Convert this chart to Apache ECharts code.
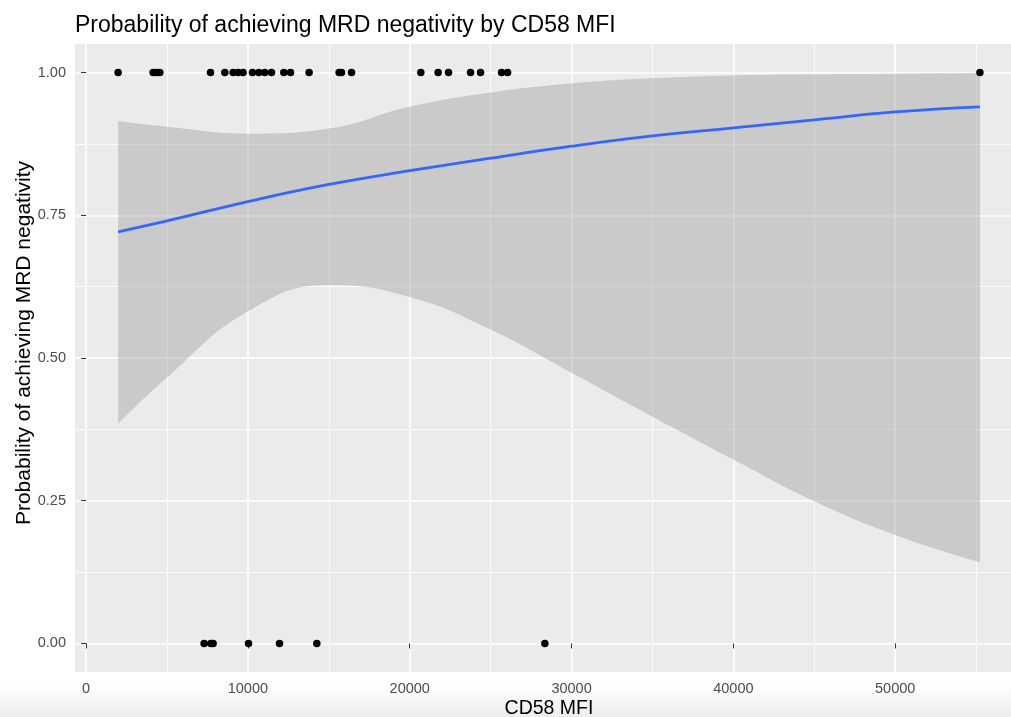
<!DOCTYPE html>
<html><head><meta charset="utf-8">
<script src="https://cdn.jsdelivr.net/npm/echarts@6/dist/echarts.min.js"></script>
<style>html,body{margin:0;padding:0;background:#fff}#c{width:1011px;height:717px}</style>
</head><body><div id="c"></div>
<script>
// Observed points (CD58 MFI) by outcome
const achievedX = [1980, 4141, 4351, 4555, 7689, 8572, 9085, 9394, 9703, 10284, 10674, 11044, 11458, 12219, 12633, 13782, 15636, 15785, 16403, 20685, 21755, 22398, 23758, 24376, 25674, 26045, 55235];
const achievedY = achievedX.map(() => 1);
const notAchievedX = [7293, 7707, 7849, 10037, 11953, 14258, 28350];
const notAchievedY = notAchievedX.map(() => 0);

// Fitted logistic curve and confidence band
const curveX = [1980, 5000, 10000, 15000, 20000, 25000, 30000, 35000, 40000, 45000, 50000, 55235];
const fitY   = [0.721, 0.740, 0.774, 0.804, 0.828, 0.850, 0.871, 0.889, 0.903, 0.917, 0.931, 0.940];
const lowerY = [0.385, 0.466, 0.582, 0.628, 0.607, 0.550, 0.474, 0.397, 0.322, 0.249, 0.190, 0.142];
const upperY = [0.915, 0.905, 0.893, 0.902, 0.940, 0.965, 0.981, 0.990, 0.995, 0.997, 0.998, 0.999];

// Ticks
const xMajorTicks = [0, 10000, 20000, 30000, 40000, 50000];
const xMinorTicks = [5000, 15000, 25000, 35000, 45000, 55000];
const yMajorTicks = [0, 0.25, 0.5, 0.75, 1];
const yMinorTicks = [0.125, 0.375, 0.625, 0.875];

const FONT = '"Liberation Sans", Arial, Helvetica, sans-serif';
const xMin = -685, xMax = 57898, yMin = -0.05, yMax = 1.05;

const chart = echarts.init(document.getElementById('c'), null, {renderer: 'canvas'});
const pairs = (xs, ys) => xs.map((x, i) => [x, ys[i]]);
// For stacked band: put the y value first so the stack acts on y (encode maps it back)
const yFirst = (xs, ys) => xs.map((x, i) => [ys[i], x]);

chart.setOption({
  animation: false,
  backgroundColor: '#ffffff',
  title: {
    text: 'Probability of achieving MRD negativity by CD58 MFI',
    left: 70, top: 9,
    textStyle: {fontFamily: FONT, fontSize: 23, fontWeight: 'normal', color: '#000'}
  },
  graphic: [{
    type: 'rect', silent: true, z: -10,
    shape: {x: 0, y: 684, width: 1011, height: 33},
    style: {fill: new echarts.graphic.LinearGradient(0, 0, 0, 1, [{offset: 0, color: '#ffffff'}, {offset: 1, color: '#ededed'}])}
  }],
  grid: {left: 75, right: -12, top: 44, bottom: 45, show: true, backgroundColor: '#EBEBEB', borderWidth: 0,
         containLabel: false, outerBoundsMode: 'none'},
  xAxis: [{
    type: 'value', min: xMin, max: xMax, position: 'bottom',
    axisLine: {show: false},
    axisTick: {show: true, length: 5, lineStyle: {color: '#333333', width: 1}, customValues: xMajorTicks},
    axisLabel: {customValues: xMajorTicks, color: '#4D4D4D', fontSize: 14.5, fontFamily: FONT, margin: 9, formatter: v => String(v)},
    splitLine: {show: true, lineStyle: {color: '#ffffff', width: 1.6}},
    name: 'CD58 MFI', nameLocation: 'middle', nameGap: 27, nameMoveOverlap: false,
    nameTextStyle: {fontFamily: FONT, fontSize: 19.5, color: '#000'}
  }, {
    type: 'value', min: xMin, max: xMax, position: 'bottom',
    axisLine: {show: false},
    axisTick: {show: false, customValues: xMinorTicks},
    axisLabel: {show: false, customValues: xMinorTicks},
    splitLine: {show: true, lineStyle: {color: '#ffffff', width: 0.8}}
  }],
  yAxis: [{
    type: 'value', min: yMin, max: yMax, position: 'left',
    axisLine: {show: false},
    axisTick: {show: true, length: 5, lineStyle: {color: '#333333', width: 1}, customValues: yMajorTicks},
    axisLabel: {customValues: yMajorTicks, color: '#4D4D4D', fontSize: 14.5, fontFamily: FONT, margin: 9, formatter: v => v.toFixed(2)},
    splitLine: {show: true, lineStyle: {color: '#ffffff', width: 1.6}},
    name: 'Probability of achieving MRD negativity', nameLocation: 'middle', nameGap: 40, nameRotate: 90, nameMoveOverlap: false,
    nameTextStyle: {fontFamily: FONT, fontSize: 21, color: '#000', padding: [0, 0, 0, 30]}
  }, {
    type: 'value', min: yMin, max: yMax, position: 'left',
    axisLine: {show: false},
    axisTick: {show: false, customValues: yMinorTicks},
    axisLabel: {show: false, customValues: yMinorTicks},
    splitLine: {show: true, lineStyle: {color: '#ffffff', width: 0.8}}
  }],
  series: [{
    type: 'line', name: 'lower', stack: 'band', data: yFirst(curveX, lowerY), encode: {x: 1, y: 0},
    smooth: 0.45, symbol: 'none', lineStyle: {opacity: 0}, silent: true, z: 2
  }, {
    type: 'line', name: 'band', stack: 'band', data: yFirst(curveX, upperY.map((u, i) => u - lowerY[i])), encode: {x: 1, y: 0},
    smooth: 0.45, symbol: 'none', lineStyle: {opacity: 0},
    areaStyle: {color: 'rgba(153,153,153,0.4)', opacity: 1}, silent: true, z: 2
  }, {
    type: 'line', name: 'fit', data: pairs(curveX, fitY),
    smooth: 0.45, symbol: 'none', lineStyle: {color: '#3366FF', width: 2.8}, z: 3
  }, {
    type: 'scatter', name: 'achieved', data: pairs(achievedX, achievedY),
    symbolSize: 7.5, itemStyle: {color: '#000', opacity: 1}, z: 4
  }, {
    type: 'scatter', name: 'not achieved', data: pairs(notAchievedX, notAchievedY),
    symbolSize: 7.5, itemStyle: {color: '#000', opacity: 1}, z: 4
  }]
});
</script>
</body></html>
